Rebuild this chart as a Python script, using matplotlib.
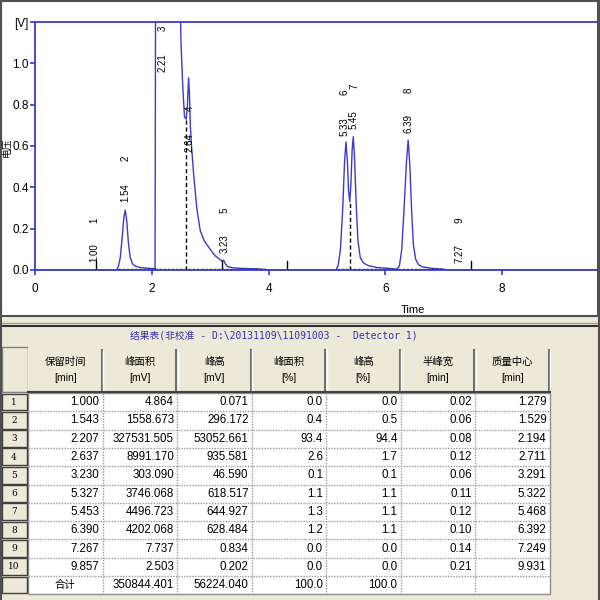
import matplotlib
matplotlib.use('Agg')
import matplotlib.pyplot as plt
from matplotlib.patches import Rectangle
from matplotlib import font_manager

# chromatogram trace (time [min], signal [V])
trace_t = [0.00, 1.40, 1.43, 1.46, 1.49, 1.52, 1.545, 1.57, 1.60, 1.63,
           1.67, 1.72, 1.80, 1.95, 2.05, 2.055, 2.06, 2.065, 2.47, 2.50,
           2.53, 2.56, 2.59, 2.61, 2.63, 2.645, 2.66, 2.68, 2.72, 2.77,
           2.83, 2.90, 3.00, 3.08, 3.17, 3.21, 3.23, 3.26, 3.30, 3.40,
           3.60, 3.85, 4.00, 5.15, 5.19, 5.23, 5.27, 5.30, 5.325, 5.35,
           5.37, 5.39, 5.41, 5.43, 5.45, 5.47, 5.50, 5.53, 5.57, 5.62,
           5.70, 5.85, 6.05, 6.20, 6.24, 6.28, 6.32, 6.36, 6.39, 6.42,
           6.45, 6.48, 6.52, 6.57, 6.65, 6.80, 7.00, 7.05, 9.70]
trace_v = [0.0, 0.0, 0.02, 0.06, 0.15, 0.25, 0.29, 0.24, 0.13, 0.06,
           0.03, 0.018, 0.012, 0.008, 0.006, 0.0, 0.6, 1.5, 1.5, 1.10,
           0.89, 0.74, 0.73, 0.80, 0.93, 0.85, 0.70, 0.60, 0.45, 0.30,
           0.19, 0.14, 0.10, 0.07, 0.05, 0.042, 0.048, 0.03, 0.016, 0.01,
           0.007, 0.005, 0.0, 0.0, 0.02, 0.10, 0.30, 0.52, 0.62, 0.52,
           0.38, 0.33, 0.42, 0.58, 0.645, 0.55, 0.32, 0.14, 0.06, 0.035,
           0.022, 0.012, 0.008, 0.004, 0.02, 0.10, 0.30, 0.52, 0.628, 0.50,
           0.28, 0.12, 0.05, 0.025, 0.014, 0.008, 0.004, 0.0, 0.0]

# results table
peak_no = [1, 2, 3, 4, 5, 6, 7, 8, 9, 10]
rt = [1.000, 1.543, 2.207, 2.637, 3.230, 5.327, 5.453, 6.390, 7.267, 9.857]
area = [4.864, 1558.673, 327531.505, 8991.170, 303.090, 3746.068, 4496.723,
        4202.068, 7.737, 2.503]
height = [0.071, 296.172, 53052.661, 935.581, 46.590, 618.517, 644.927,
          628.484, 0.834, 0.202]
area_pct = [0.0, 0.4, 93.4, 2.6, 0.1, 1.1, 1.3, 1.2, 0.0, 0.0]
height_pct = [0.0, 0.5, 94.4, 1.7, 0.1, 1.1, 1.1, 1.1, 0.0, 0.0]
half_width = [0.02, 0.06, 0.08, 0.12, 0.06, 0.11, 0.12, 0.10, 0.14, 0.21]
centroid = [1.279, 1.529, 2.194, 2.711, 3.291, 5.322, 5.468, 6.392, 7.249, 9.931]
total_row = ['合计', '350844.401', '56224.040', '100.0', '100.0', '', '']

col_names = ['保留时间', '峰面积', '峰高', '峰面积', '峰高', '半峰宽', '质量中心']
col_units = ['[min]', '[mV]', '[mV]', '[%]', '[%]', '[min]', '[min]']
table_title = '结果表(非校准 - D:\\20131109\\11091003 -  Detector 1)'

x_ticks = [0, 2, 4, 6, 8]
y_ticks = [0.0, 0.2, 0.4, 0.6, 0.8, 1.0, 1.2]
y_tick_labels = ['0.0', '0.2', '0.4', '0.6', '0.8', '1.0', '[V]']

# label placement above the peaks: x nudge (min), heights (V)
label_peaks = [0, 1, 2, 3, 4, 5, 6, 7, 8]
label_dx = [0.02, 0.01, -0.02, 0.01, 0.02, -0.02, 0.01, 0.0, 0.01]
label_rt_y = [0.04, 0.33, 0.96, 0.57, 0.08, 0.65, 0.68, 0.665, 0.035]
label_no_y = [0.24, 0.54, 1.17, 0.78, 0.29, 0.86, 0.89, 0.87, 0.24]

# integration event marks, drop lines, baselines
event_marks = [1.04, 3.20, 4.32, 7.46]
drop_lines = [(2.59, 0.73), (5.39, 0.33)]
baselines = [(1.42, 2.06), (2.06, 3.97), (5.17, 6.20), (6.22, 6.99)]


def has_font(name):
    try:
        font_manager.findfont(font_manager.FontProperties(family=name),
                              fallback_to_default=False)
        return True
    except Exception:
        return False


if has_font('Liberation Sans Narrow'):
    NARROW, NSIZE = 'Liberation Sans Narrow', 9.5
else:
    NARROW, NSIZE = 'Liberation Sans', 8
CJK = 'Noto Sans CJK SC'

BLUE = '#3a3acc'
BEIGE = '#ece9d8'
PX = 58.4  # pixels per minute

fig = plt.figure(figsize=(6, 6), dpi=100)
fig.patch.set_facecolor(BEIGE)

# pixel canvas for window, panels and table
bg = fig.add_axes([0, 0, 1, 1])
bg.set_xlim(0, 600)
bg.set_ylim(600, 0)
bg.axis('off')

bg.add_patch(Rectangle((1, 1), 597, 315, fc='white', ec='#505050', lw=1.5))
bg.plot([0, 600], [323, 323], color='#a0a0a0', lw=1)
bg.plot([0, 600], [326, 326], color='#303030', lw=1.5)
bg.plot([598.5, 598.5], [0, 600], color='#505050', lw=1.5)
bg.plot([0.5, 0.5], [0, 600], color='#505050', lw=1.5)

bg.text(7, 147, '电压', rotation=90, fontsize=7, family=CJK,
        ha='center', va='center')
bg.text(413, 310, 'Time', fontsize=8, family=NARROW,
        ha='center', va='center')

# chromatogram
ax = fig.add_axes([35 / 600, 1 - 270 / 600, 562 / 600, 248 / 600])
ax.set_facecolor('none')
ax.plot(trace_t, trace_v, color=BLUE, lw=1)
for t0, t1 in baselines:
    ax.plot([t0, t1], [0.003, 0.003], color='black', lw=1, ls=(0, (1.5, 1.5)))
for t, v in drop_lines:
    ax.plot([t, t], [0, v], color='black', lw=1, ls=(0, (3, 2)))
for t in event_marks:
    ax.plot([t, t], [0, 0.045], color='black', lw=1)
for i, i_peak in enumerate(label_peaks):
    x = rt[i_peak] + label_dx[i]
    ax.text(x, label_rt_y[i], f'{rt[i_peak]:.2f}', rotation=90,
            ha='center', va='bottom', fontsize=7, family='Liberation Sans')
    ax.text(x, label_no_y[i], str(peak_no[i_peak]), rotation=90,
            ha='center', va='center', fontsize=7, family='Liberation Sans')

ax.set_xlim(0, 562 / PX)
ax.set_ylim(0, 1.2)
ax.set_xticks(x_ticks)
ax.set_yticks(y_ticks, y_tick_labels)
for side in ['left', 'top', 'bottom']:
    ax.spines[side].set_color(BLUE)
    ax.spines[side].set_linewidth(1.3)
ax.spines['right'].set_visible(False)
ax.tick_params(colors=BLUE, labelcolor='black', length=3.5, width=1.2,
               labelsize=NSIZE + 0.5)
ax.tick_params(axis='y', pad=1)
ax.tick_params(axis='x', pad=6)
for lab in ax.get_xticklabels() + ax.get_yticklabels():
    lab.set_family(NARROW)

# results table
bg.text(274, 336, table_title, color='#3030b0', fontsize=7,
        family=['DejaVu Sans Mono', CJK], ha='center', va='center')

col_edges = [28, 102.5, 177, 251.5, 326, 400.5, 475, 549.5]
head_top, head_bot = 347, 392
row_top, row_h = 393, 18.3

bg.add_patch(Rectangle((2, head_top), 26, head_bot - head_top, fc=BEIGE,
                       ec='#808080', lw=1))
for c in range(7):
    x0, x1 = col_edges[c], col_edges[c + 1]
    bg.add_patch(Rectangle((x0, head_top), x1 - x0, head_bot - head_top,
                           fc=BEIGE, ec='none'))
    bg.plot([x1 - 1, x1 - 1], [head_top + 3, head_bot], color='#707070', lw=1.5)
    bg.plot([x1 + 0.5, x1 + 0.5], [head_top + 3, head_bot], color='white', lw=1)
    bg.text((x0 + x1) / 2, 362, col_names[c], family=CJK, fontsize=7.5,
            ha='center', va='center')
    bg.text((x0 + x1) / 2, 378, col_units[c], family=NARROW, fontsize=NSIZE - 0.5,
            ha='center', va='center')
bg.plot([28, 549.5], [head_bot, head_bot], color='#404040', lw=1.5)

n_rows = len(rt) + 1
bg.add_patch(Rectangle((28, row_top), 549.5 - 28, n_rows * row_h,
                       fc='white', ec='#909090', lw=1))
for r in range(n_rows):
    y0 = row_top + r * row_h
    bg.add_patch(Rectangle((2, y0 + 0.5), 25, row_h - 1.5, fc=BEIGE,
                           ec='#404040', lw=1))
    bg.plot([28, 549.5], [y0 + row_h, y0 + row_h], color='#9a9a9a', lw=1,
            ls=(0, (1, 1)))
    if r < len(rt):
        bg.text(14, y0 + row_h / 2, str(peak_no[r]), family='DejaVu Serif',
                fontsize=6.5, ha='center', va='center')
        values = [f'{rt[r]:.3f}', f'{area[r]:.3f}', f'{height[r]:.3f}',
                  f'{area_pct[r]:.1f}', f'{height_pct[r]:.1f}',
                  f'{half_width[r]:.2f}', f'{centroid[r]:.3f}']
    else:
        values = total_row
    for c, val in enumerate(values):
        if r == len(rt) and c == 0:
            bg.text((col_edges[0] + col_edges[1]) / 2, y0 + row_h / 2, val,
                    family=CJK, fontsize=7.5, ha='center', va='center')
        else:
            bg.text(col_edges[c + 1] - 3, y0 + row_h / 2, val, family=NARROW,
                    fontsize=NSIZE + 0.3, ha='right', va='center')
for x in col_edges[1:-1]:
    bg.plot([x, x], [row_top, row_top + n_rows * row_h], color='#9a9a9a',
            lw=1, ls=(0, (1, 1)))

fig.savefig('out.png', dpi=100, facecolor=fig.get_facecolor())
